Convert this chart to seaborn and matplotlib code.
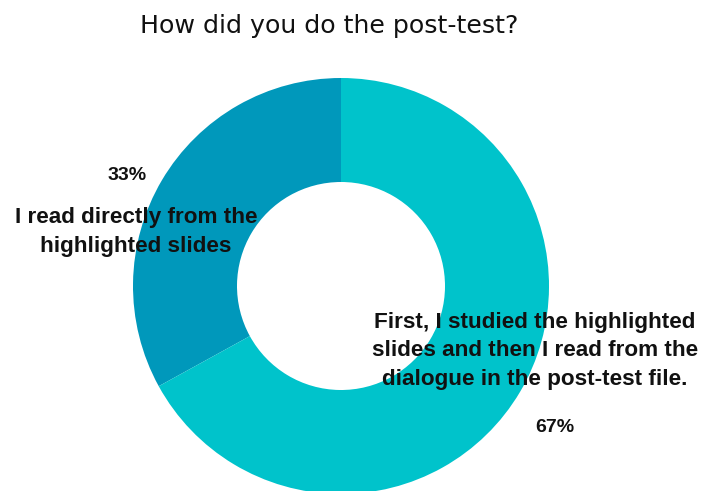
import matplotlib.pyplot as plt
import seaborn as sns

# data
answers = ['I read directly from the\nhighlighted slides',
           'First, I studied the highlighted\nslides and then I read from the\ndialogue in the post-test file.']
shares = [33, 67]
colors = ['#0098BB', '#00C3CB']

sns.set_theme(style='white')
plt.rcParams['font.family'] = ['Liberation Sans', 'DejaVu Sans']

W, H = 702, 491
fig = plt.figure(figsize=(W / 100, H / 100), dpi=100)

# donut placed in pixel box: left 133, top 78, diameter 416
ax = fig.add_axes([133 / W, (H - 78 - 416) / H, 416 / W, 416 / H])
ax.pie(shares, colors=sns.color_palette(colors), startangle=90, counterclock=True,
       radius=1, wedgeprops=dict(width=0.5, linewidth=0))
ax.set_xlim(-1, 1)
ax.set_ylim(-1, 1)
ax.set_aspect('equal')
ax.axis('off')


def px(x, y):
    return x / W, 1 - y / H


fig.text(*px(329, 26), 'How did you do the post-test?', ha='center', va='center',
         fontsize=18.2, family=['DejaVu Sans'], color='#111111')

# label positions (pixels)
pct_pos = [(127, 175), (555, 428)]
lab_pos = [(136, 232), (535, 351)]
for share, answer, pp, lp in zip(shares, answers, pct_pos, lab_pos):
    fig.text(*px(*pp), f'{share}%', ha='center', va='center', fontsize=14,
             fontweight='bold', color='#111111')
    fig.text(*px(*lp), answer, ha='center', va='center', fontsize=16.2,
             fontweight='bold', color='#111111', linespacing=1.44)

fig.savefig('out.png', dpi=100)
